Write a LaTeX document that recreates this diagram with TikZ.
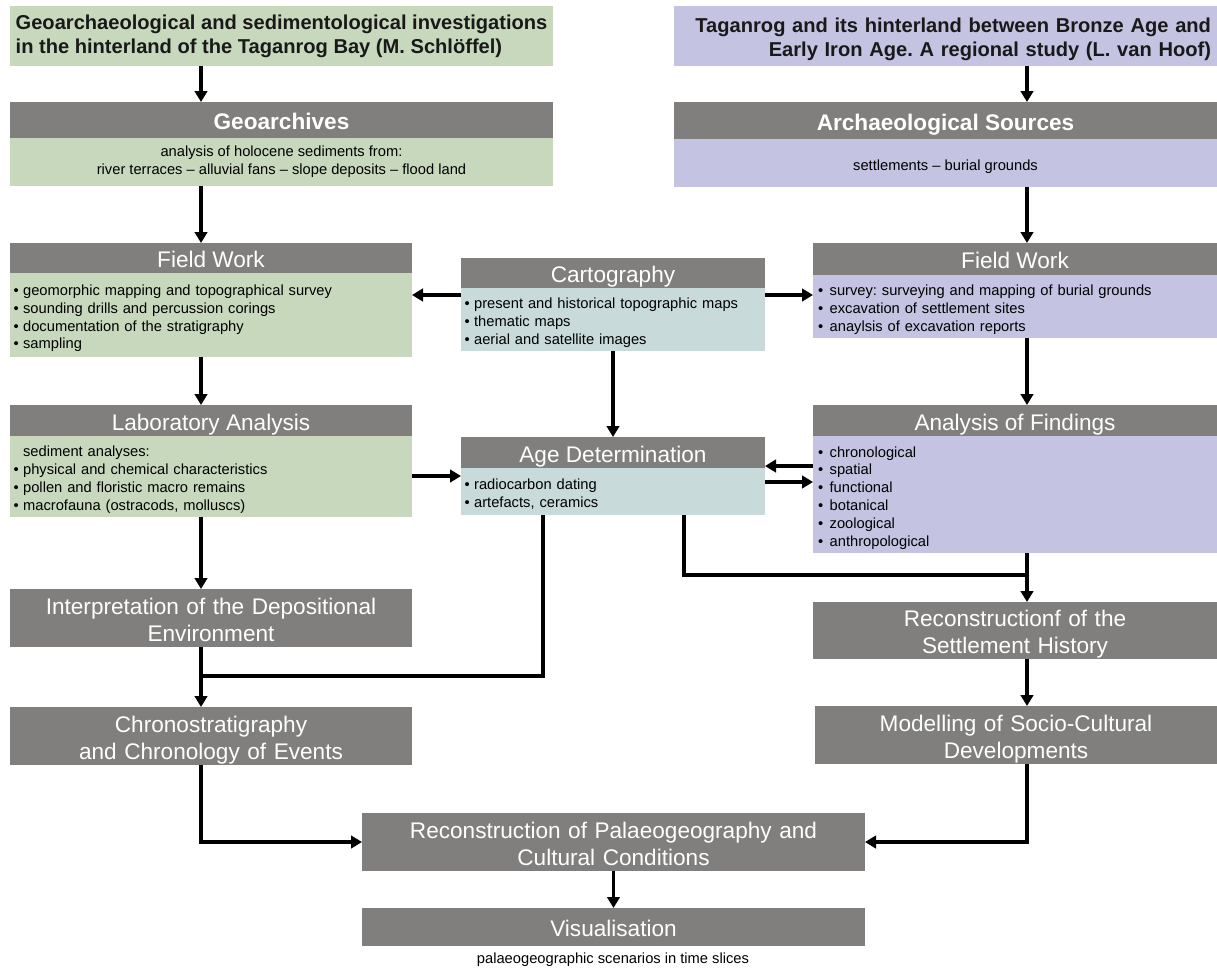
\documentclass[tikz,border=0pt]{standalone}
\usepackage{fontspec}
\setmainfont{Liberation Sans}
\usetikzlibrary{arrows.meta}
\frenchspacing
\definecolor{hdrgray}{RGB}{128,127,126}
\definecolor{geogreen}{RGB}{200,216,189}
\definecolor{arcpurple}{RGB}{196,195,225}
\definecolor{cartblue}{RGB}{201,218,218}
\newcommand\bA{•\hspace{4.5pt}}
\newcommand\bB{•\hspace{6.5pt}}
\newcommand\lnstrut{\rule[-0.212em]{0pt}{\dimexpr1.117em+4pt\relax}}
\newcommand\lnstrutB{\rule[-0.212em]{0pt}{1.117em}}
\tikzset{
  box/.style={anchor=north west, inner sep=0pt, outer sep=0pt,
    execute at begin node=\lnstrut, execute at end node=\lnstrutB},
  hdr/.style={box, fill=hdrgray, text=white, align=center, font=\fontsize{22.6}{27}\selectfont},
  hdrbold/.style={hdr, font=\bfseries\fontsize{22.6}{27}\selectfont},
  title/.style={box, font=\bfseries\fontsize{20.1}{24}\selectfont, text=black!90},
  body/.style={box, font=\fontsize{14.7}{17.8}\selectfont, text=black},
  arr/.style={draw=black, line width=3.6pt, -{Triangle[length=11pt,width=12.5pt]}},
  ln/.style={draw=black, line width=3.6pt}
}
\begin{document}
\begin{tikzpicture}[x=1pt,y=-1pt]
\useasboundingbox (0,0) rectangle (1217,967);
\coordinate (cL) at (201,0);
\coordinate (cR) at (1027,0);
% titles
\node[title, fill=geogreen, minimum width=543pt, minimum height=60pt, align=left] (tl) at (10,6)
  {Geoarchaeological and sedimentological investigations\\in the hinterland of the Taganrog Bay (M. Schlöffel)};
\node[title, fill=arcpurple, text width=531pt, inner xsep=6pt, minimum height=60pt, align=right] (tr) at (674,6)
  {Taganrog and its hinterland between Bronze Age and\\Early Iron Age. A regional study (L. van Hoof)};
% geoarchives
\node[hdrbold, minimum width=543pt, minimum height=36pt] (geoh) at (10,102) {Geoarchives};
\node[body, fill=geogreen, minimum width=543pt, minimum height=48pt, align=center] (geob) at (10,138)
  {analysis of holocene sediments from:\\river terraces -- alluvial fans -- slope deposits -- flood land};
% archaeological sources
\node[hdrbold, minimum width=543pt, minimum height=37pt] (arch) at (674,102) {Archaeological Sources};
\node[body, fill=arcpurple, minimum width=543pt, minimum height=48pt, align=center] (archb) at (674,139)
  {settlements -- burial grounds};
% field work left
\node[hdr, minimum width=402pt, minimum height=30pt] (fwlh) at (10,243) {Field Work};
\node[body, fill=geogreen, text width=395pt, inner xsep=3.5pt, minimum height=84pt, align=left] (fwlb) at (10,273)
  {\bA geomorphic mapping and topographical survey\\\bA sounding drills and percussion corings\\\bA documentation of the stratigraphy\\\bA sampling};
% cartography
\node[hdr, minimum width=304pt, minimum height=30pt] (carth) at (461,258) {Cartography};
\node[body, fill=cartblue, text width=297pt, inner xsep=3.5pt, minimum height=63pt, align=left] (cartb) at (461,288)
  {\bA present and historical topographic maps\\\bA thematic maps\\\bA aerial and satellite images};
% field work right
\node[hdr, minimum width=404pt, minimum height=32pt] (fwrh) at (813,243) {Field Work};
\node[body, fill=arcpurple, text width=394pt, inner xsep=5pt, minimum height=63pt, align=left] (fwrb) at (813,275)
  {\bB survey: surveying and mapping of burial grounds\\\bB excavation of settlement sites\\\bB anaylsis of excavation reports};
% laboratory
\node[hdr, minimum width=402pt, minimum height=31pt] (labh) at (10,405) {Laboratory Analysis};
\node[body, fill=geogreen, text width=395pt, inner xsep=3.5pt, minimum height=81pt, align=left] (labb) at (10,436)
  {\phantom{\bA}sediment analyses:\\\bA physical and chemical characteristics\\\bA pollen and floristic macro remains\\\bA macrofauna (ostracods, molluscs)};
% age determination
\node[hdr, minimum width=304pt, minimum height=31pt] (ageh) at (461,437) {Age Determination};
\node[body, fill=cartblue, text width=297pt, inner xsep=3.5pt, minimum height=47pt, align=left] (ageb) at (461,468)
  {\bA radiocarbon dating\\\bA artefacts, ceramics};
% findings
\node[hdr, minimum width=404pt, minimum height=31pt] (findh) at (813,405) {Analysis of Findings};
\node[body, fill=arcpurple, text width=394pt, inner xsep=5pt, minimum height=117pt, align=left] (findb) at (813,436)
  {\bB chronological\\\bB spatial\\\bB functional\\\bB botanical\\\bB zoological\\\bB anthropological};
% lower boxes
\node[hdr, text width=402pt, minimum height=58pt] (interp) at (10,589) {Interpretation of the Depositional\\Environment};
\node[hdr, text width=402pt, minimum height=58pt] (chrono) at (10,707) {Chronostratigraphy\\and Chronology of Events};
\node[hdr, text width=404pt, minimum height=57pt] (recon) at (813,602) {Reconstructionf of the\\Settlement History};
\node[hdr, text width=402pt, minimum height=58pt] (model) at (815,706) {Modelling of Socio-Cultural\\Developments};
\node[hdr, text width=503pt, minimum height=58pt] (palaeo) at (362,813) {Reconstruction of Palaeogeography and\\Cultural Conditions};
\node[hdr, minimum width=503pt, minimum height=38pt] (vis) at (362,908) {Visualisation};
\node[font=\fontsize{14.7}{17.8}\selectfont, inner sep=0pt, anchor=base] (cap) at (613,963) {palaeogeographic scenarios in time slices};
% connectors
\coordinate (jL) at (201,676);
\coordinate (jR) at (1027,575);
\draw[arr] (tl.south -| cL) -- (geoh.north -| cL);
\draw[arr] (tr.south -| cR) -- (arch.north -| cR);
\draw[arr] (geob.south -| cL) -- (fwlh.north -| cL);
\draw[arr] (archb.south -| cR) -- (fwrh.north -| cR);
\draw[arr] (cartb.west |- 0,295) -- (fwlb.east |- 0,295);
\draw[arr] (cartb.east |- 0,295) -- (fwrb.west |- 0,295);
\draw[arr] (cartb.south) -- (ageh.north);
\draw[arr] (fwlb.south -| cL) -- (labh.north -| cL);
\draw[arr] (fwrb.south -| cR) -- (findh.north -| cR);
\draw[arr] (labb.east |- 0,476) -- (ageb.west |- 0,476);
\draw[arr] (findb.west |- 0,466) -- (ageh.east |- 0,466);
\draw[arr] (ageb.east |- 0,482) -- (findb.west |- 0,482);
\draw[arr] (labb.south -| cL) -- (interp.north -| cL);
\draw[arr] (interp.south -| cL) -- (chrono.north -| cL);
\draw[ln] (ageb.south -| 543,0) |- (jL);
\draw[arr] (findb.south -| cR) -- (recon.north -| cR);
\draw[ln] (ageb.south -| 684,0) |- (jR);
\draw[arr] (recon.south -| cR) -- (model.north -| cR);
\draw[arr] (chrono.south -| cL) |- (palaeo.west);
\draw[arr] (model.south -| cR) |- (palaeo.east);
\draw[arr] (palaeo.south) -- (vis.north);
\end{tikzpicture}
\end{document}
